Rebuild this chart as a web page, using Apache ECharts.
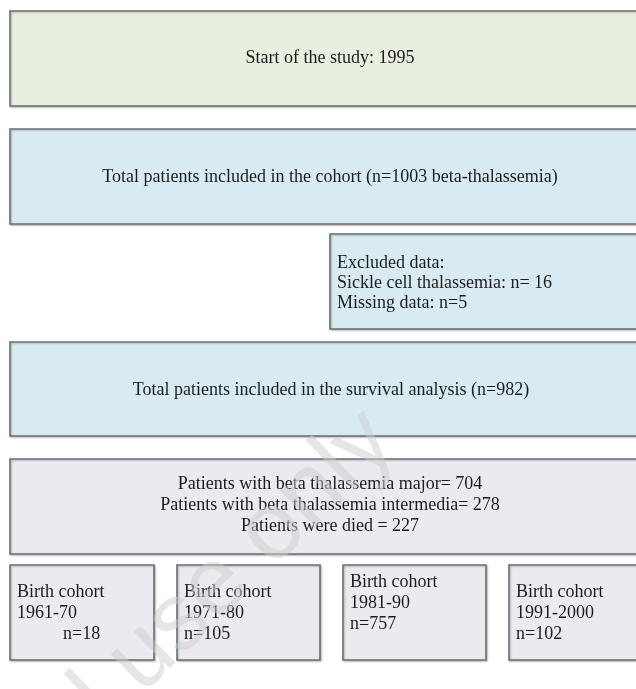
<!DOCTYPE html>
<html>
<head>
<meta charset="utf-8">
<script src="https://cdn.jsdelivr.net/npm/echarts@6/dist/echarts.min.js"></script>
<style>
  html, body { margin: 0; padding: 0; background: #fff; }
  #chart { width: 636px; height: 689px; }
</style>
</head>
<body>
<div id="chart"></div>
<script>
// texts of the flow chart
const startText = ['Start of the study: 1995'];
const cohortText = ['Total patients included in the cohort (n=1003 beta-thalassemia)'];
const excludedText = ['Excluded data:', 'Sickle cell thalassemia: n= 16', 'Missing data: n=5'];
const survivalText = ['Total patients included in the survival analysis (n=982)'];
const groupText = ['Patients with beta thalassemia major= 704', 'Patients with beta thalassemia intermedia= 278', 'Patients were died = 227'];
const birthPeriods = ['1961-70', '1971-80', '1981-90', '1991-2000'];
const birthCounts = [18, 105, 757, 102];

const GREEN = '#e8efe0', BLUE = '#d9ebf2', LILAC = '#ece9f1';

// layout: box corners in page units, text anchor and line step
const boxes = [
  { r: [10, 11, 660, 106], fill: GREEN, lines: startText, tx: 330, ty: 58, align: 'center' },
  { r: [10, 129, 660, 224], fill: BLUE, lines: cohortText, tx: 330, ty: 177, align: 'center' },
  { r: [330, 234, 660, 329], fill: BLUE, lines: excludedText, tx: 337, ty: 283, align: 'left', lh: 20 },
  { r: [10, 342, 660, 436], fill: BLUE, lines: survivalText, tx: 331, ty: 390, align: 'center' },
  { r: [10, 459, 660, 554], fill: LILAC, lines: groupText, tx: 330, ty: 505, align: 'center', lh: 21 }
];
const cohortLeft = [10, 177, 343, 509];
const cohortRight = [154, 320, 486, 660];
const cohortMid = [613, 613, 603, 613];
birthPeriods.forEach(function (p, i) {
  boxes.push({
    r: [cohortLeft[i], 565, cohortRight[i], 660],
    fill: LILAC,
    lines: ['Birth cohort', p, 'n=' + birthCounts[i]],
    tx: cohortLeft[i] + 7, ty: cohortMid[i], align: 'left', lh: 21,
    indent: i === 0 ? [0, 0, 46] : null
  });
});

const chart = echarts.init(document.getElementById('chart'));

function renderBox(params, api) {
  const b = boxes[api.value(0)];
  const p0 = api.coord([b.r[0], b.r[1]]);
  const p1 = api.coord([b.r[2], b.r[3]]);
  const children = [{
    type: 'rect',
    shape: { x: p0[0], y: p0[1], width: p1[0] - p0[0], height: p1[1] - p0[1] },
    style: {
      fill: b.fill, stroke: '#6c7070', lineWidth: 1.6,
      shadowColor: 'rgba(0,0,0,0.25)', shadowBlur: 2, shadowOffsetX: 1, shadowOffsetY: 1
    }
  }];
  const n = b.lines.length;
  const lh = b.lh || 20;
  b.lines.forEach(function (t, k) {
    const dx = b.indent ? b.indent[k] : 0;
    const p = api.coord([b.tx + dx, b.ty + (k - (n - 1) / 2) * lh]);
    children.push({
      type: 'text',
      x: p[0], y: p[1],
      style: {
        text: t, fill: '#1c1c1c',
        font: '18px "Liberation Serif", "Times New Roman", serif',
        align: b.align, verticalAlign: 'middle'
      }
    });
  });
  return { type: 'group', children: children };
}

const option = {
  animation: false,
  grid: { left: 0, right: 0, top: 0, bottom: 0 },
  xAxis: { type: 'value', min: 0, max: 636, show: false },
  yAxis: { type: 'value', min: 0, max: 689, inverse: true, show: false },
  series: [{
    type: 'custom',
    renderItem: renderBox,
    clip: true,
    data: boxes.map(function (b, i) { return [i]; })
  }],
  graphic: [{
    type: 'text',
    x: 414, y: 462,
    rotation: 44 * Math.PI / 180,
    z: 100,
    style: {
      text: 'Personal use only',
      font: '96px "Liberation Sans", sans-serif',
      fill: 'rgba(205,205,205,0.5)',
      align: 'right', verticalAlign: 'bottom'
    }
  }]
};
chart.setOption(option);
</script>
</body>
</html>
